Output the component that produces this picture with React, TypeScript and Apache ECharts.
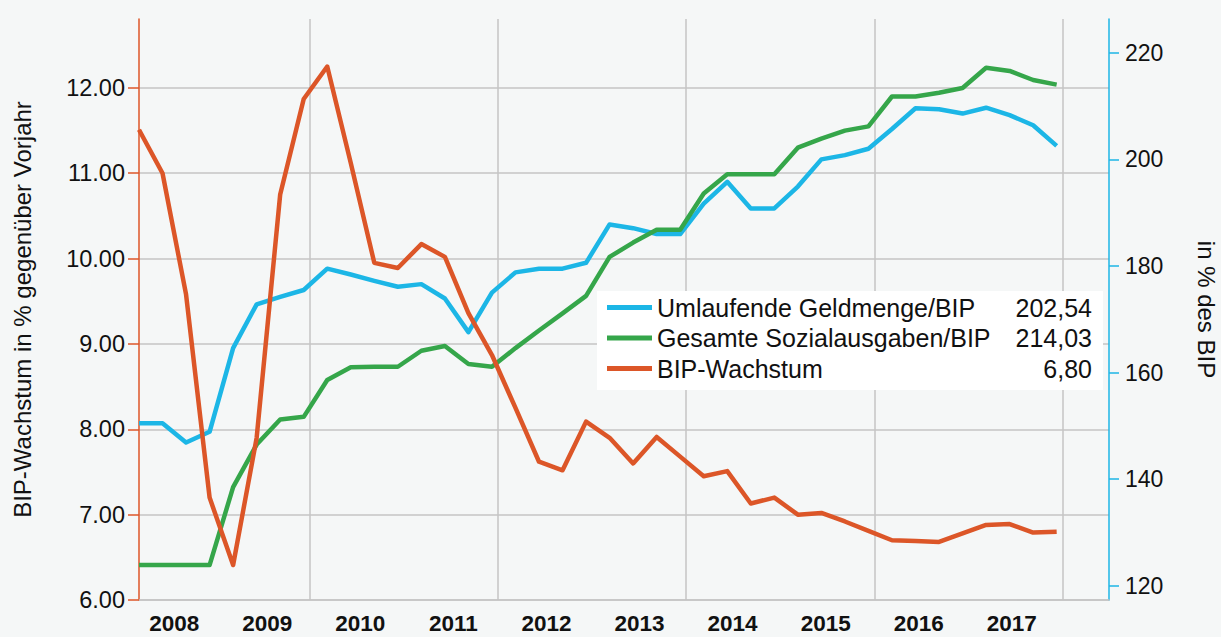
import React, { useEffect, useRef } from "react";
import * as echarts from "echarts";

// ---- data ----
const years = [2008, 2009, 2010, 2011, 2012, 2013, 2014, 2015, 2016, 2017];
const quarterOffset = 0.187; // position of a quarter's point inside the quarter (in years)
const quarters: number[] = years.flatMap((y) => [0, 1, 2, 3].map((q) => y + q / 4 + quarterOffset));

const leftTicks = [6, 7, 8, 9, 10, 11, 12];
const rightTicks = [120, 140, 160, 180, 200, 220];

const geldmenge = [
  150.5, 150.5, 146.9, 148.9, 164.6, 172.8, 174.2, 175.5, 179.5, 178.4,
  177.2, 176.1, 176.6, 173.9, 167.6, 175.0, 178.8, 179.5, 179.5, 180.6,
  187.8, 187.1, 186.0, 186.0, 191.7, 195.8, 190.8, 190.8, 194.9, 200.0,
  200.8, 202.0, 205.7, 209.6, 209.4, 208.6, 209.7, 208.3, 206.4, 202.54,
];
const sozial = [
  123.9, 123.9, 123.9, 123.9, 138.5, 146.5, 151.2, 151.7, 158.6, 161.0,
  161.1, 161.1, 164.1, 165.0, 161.6, 161.1, 164.6, 167.9, 171.1, 174.4,
  181.7, 184.4, 186.8, 186.8, 193.6, 197.2, 197.2, 197.2, 202.2, 203.9,
  205.4, 206.2, 211.8, 211.8, 212.5, 213.4, 217.2, 216.6, 214.9, 214.03,
];
const wachstum = [
  11.51, 11.0, 9.58, 7.2, 6.41, 7.9, 10.75, 11.87, 12.25, 11.12,
  9.95, 9.89, 10.17, 10.02, 9.36, 8.87, 8.25, 7.62, 7.52, 8.09,
  7.9, 7.6, 7.91, 7.68, 7.45, 7.51, 7.13, 7.2, 7.0, 7.02,
  6.92, 6.81, 6.7, 6.69, 6.68, 6.78, 6.88, 6.89, 6.79, 6.8,
];

const names = ["Umlaufende Geldmenge/BIP", "Gesamte Sozialausgaben/BIP", "BIP-Wachstum"];
const seriesValues = [geldmenge, sozial, wachstum];
const colors = ["#1cb6e6", "#35a64a", "#dc5628"];

const FONT = "'Liberation Sans', Arial, sans-serif";
const GRID = "#c4c4c4";

export default function App() {
  const ref = useRef<HTMLDivElement>(null);

  useEffect(() => {
    if (!ref.current) return;
    const chart = echarts.init(ref.current, undefined, { renderer: "svg" });

    const lastLabel: Record<string, string> = {};
    names.forEach((n, k) => {
      const arr = seriesValues[k];
      lastLabel[n] = arr[arr.length - 1].toFixed(2).replace(".", ",");
    });

    const option: any = {
      animation: false,
      backgroundColor: "#f5f7f7",
      textStyle: { fontFamily: FONT },
      grid: { left: 139, right: 112, top: 19, bottom: 37, containLabel: false, outerBoundsMode: "none" },
      legend: {
        orient: "vertical",
        left: 597,
        top: 291,
        backgroundColor: "#ffffff",
        padding: [4, 11, 9, 10],
        itemGap: 5.5,
        icon: "rect",
        itemWidth: 45,
        itemHeight: 5,
        itemStyle: { borderWidth: 0 },
        selectedMode: false,
        data: names,
        formatter: (name: string) => `{n|${name}}{v|${lastLabel[name]}}`,
        textStyle: {
          color: "#111",
          fontSize: 25,
          fontFamily: FONT,
          rich: {
            n: { fontSize: 25, lineHeight: 25, width: 355, color: "#111", fontFamily: FONT },
            v: { fontSize: 25, lineHeight: 25, width: 80, align: "right", color: "#111", fontFamily: FONT },
          },
        },
      },
      xAxis: [
        {
          type: "value",
          position: "bottom",
          min: 2008.187,
          max: 2018.493,
          splitNumber: 5,
          axisLine: { show: true, onZero: false, lineStyle: { color: GRID, width: 1.5 } },
          axisTick: { show: false },
          axisLabel: { show: false },
          splitLine: { show: true, showMinLine: false, showMaxLine: false, lineStyle: { color: GRID, width: 1.5 } },
        },
        {
          type: "value",
          position: "bottom",
          min: 2007.622,
          max: 2018.044,
          splitNumber: 10,
          axisLine: { show: false },
          axisTick: { show: false },
          splitLine: { show: false },
          axisLabel: {
            customValues: years,
            formatter: (v: number) => (years.includes(v) ? String(v) : ""),
            fontSize: 22.5,
            fontWeight: "bold",
            color: "#111",
            margin: 12,
            fontFamily: FONT,
          },
        },
      ],
      yAxis: [
        {
          type: "value",
          position: "left",
          min: 6,
          max: 12.807,
          interval: 1,
          name: "BIP-Wachstum in % gegenüber Vorjahr",
          nameLocation: "middle",
          nameGap: 105,
          nameTextStyle: { fontSize: 24, color: "#111", fontFamily: FONT },
          axisLine: { show: true, onZero: false, lineStyle: { color: colors[2], width: 1.5 } },
          axisTick: { show: true, customValues: leftTicks, length: 11, lineStyle: { color: colors[2], width: 1.5 } },
          axisLabel: {
            customValues: leftTicks,
            formatter: (v: number) => (leftTicks.includes(v) ? v.toFixed(2) : ""),
            fontSize: 23.5,
            color: "#111",
            margin: 14,
            fontFamily: FONT,
          },
          splitLine: { show: true, lineStyle: { color: GRID, width: 1.5 } },
        },
        {
          type: "value",
          position: "right",
          min: 117.34,
          max: 226.34,
          name: "in % des BIP",
          nameLocation: "middle",
          nameRotate: -90,
          nameGap: 85,
          nameTextStyle: { fontSize: 24, color: "#111", fontFamily: FONT },
          axisLine: { show: true, onZero: false, lineStyle: { color: colors[0], width: 1.5 } },
          axisTick: { show: true, customValues: rightTicks, length: 10, lineStyle: { color: colors[0], width: 1.5 } },
          axisLabel: {
            customValues: rightTicks,
            formatter: (v: number) => (rightTicks.includes(v) ? String(v) : ""),
            fontSize: 23,
            color: "#111",
            margin: 16,
            fontFamily: FONT,
          },
          splitLine: { show: false },
        },
      ],
      series: names.map((n, k) => ({
        name: n,
        type: "line",
        xAxisIndex: 0,
        yAxisIndex: k === 2 ? 0 : 1,
        data: quarters.map((x, i) => [x, seriesValues[k][i]]),
        showSymbol: false,
        symbol: "none",
        color: colors[k],
        lineStyle: { color: colors[k], width: 4.5, join: "round" },
      })),
    };

    chart.setOption(option);
    return () => chart.dispose();
  }, []);

  return (
    <div
      ref={ref}
      style={{ position: "fixed", left: 0, top: 0, width: 1221, height: 637 }}
    />
  );
}
